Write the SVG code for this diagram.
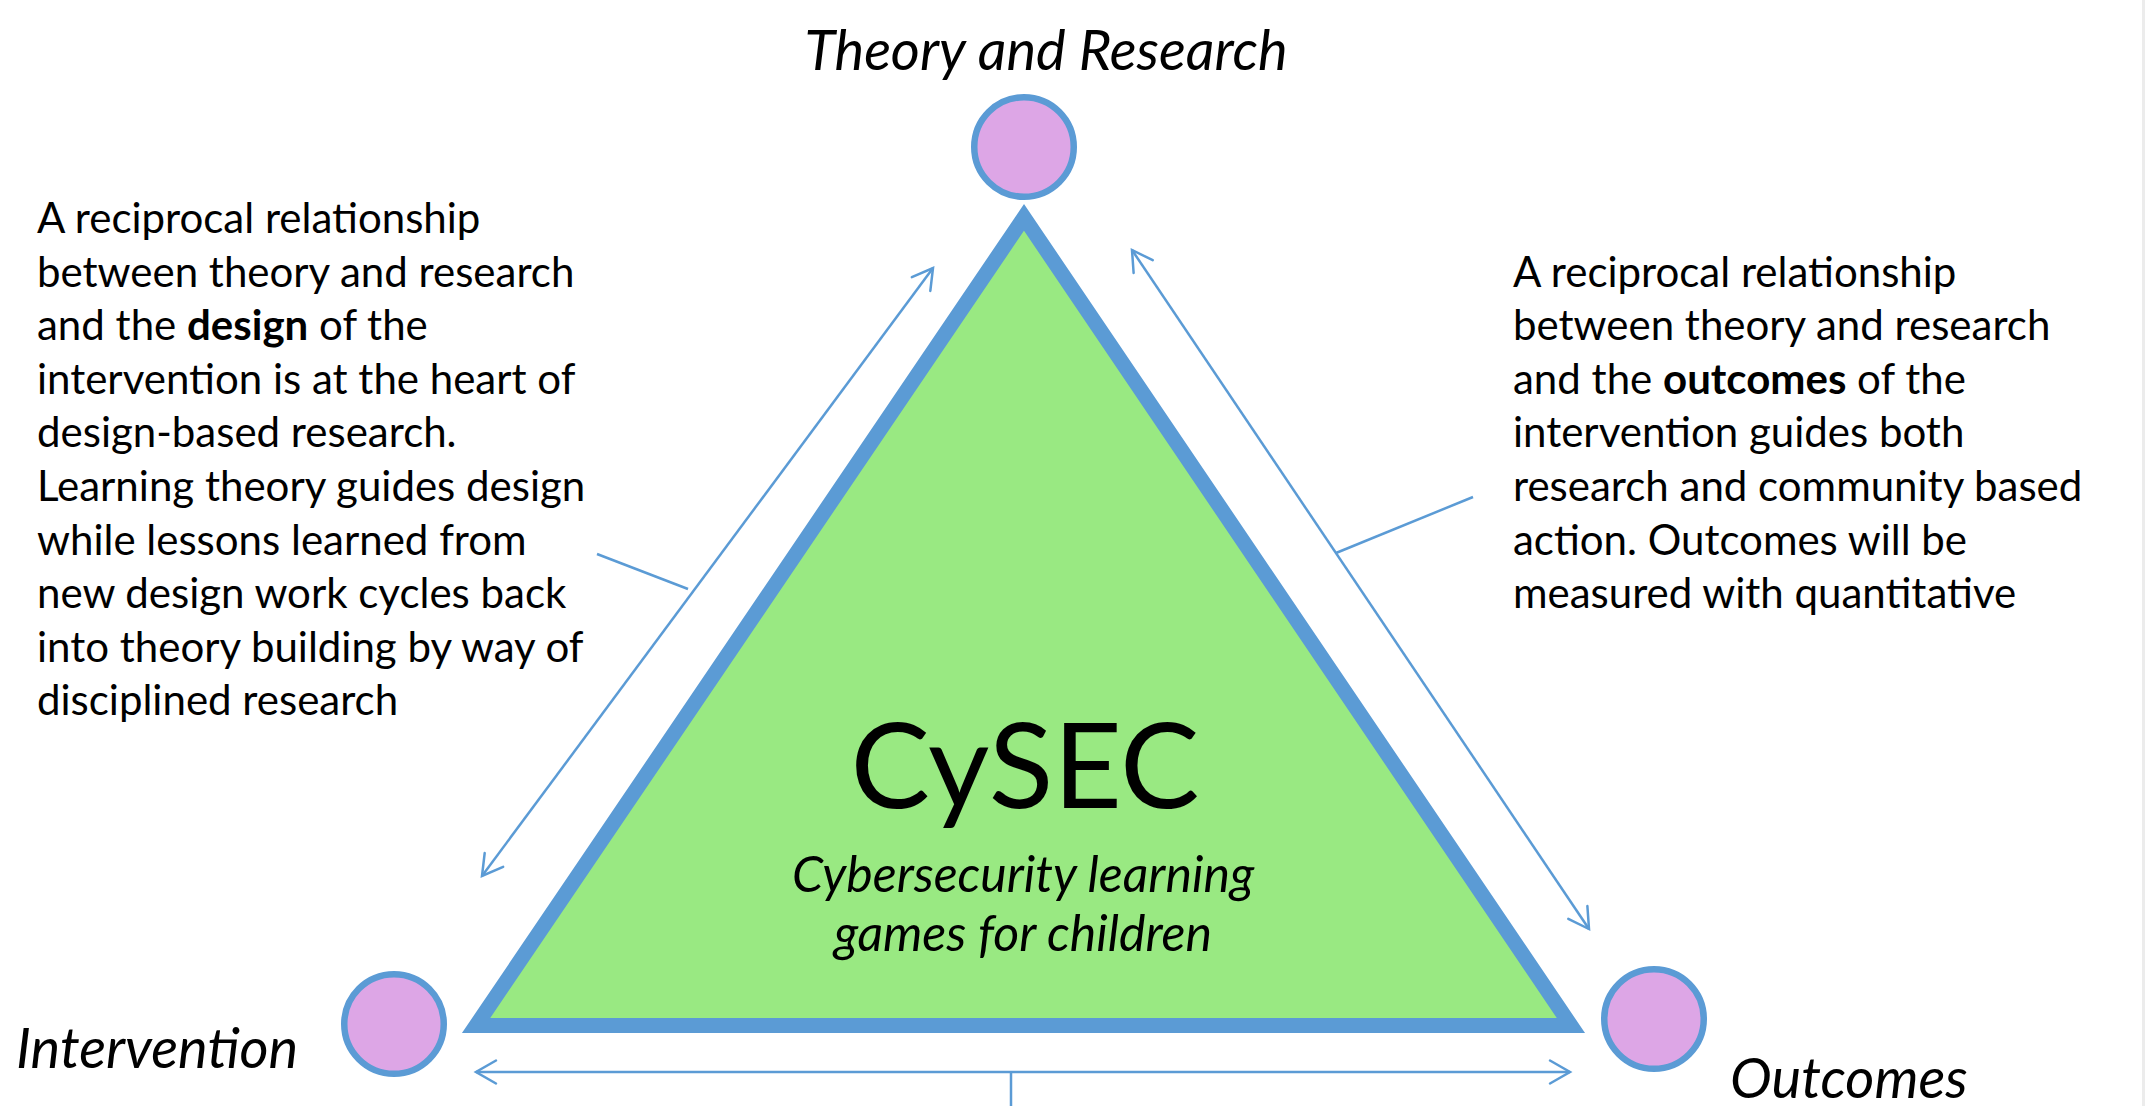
<svg xmlns="http://www.w3.org/2000/svg" width="2145" height="1106" viewBox="0 0 2145 1106">
  <style>
    .body { font-family: Lato, "Liberation Sans", sans-serif; font-size: 42px; fill: #000; }
    .label { font-family: Lato, "Liberation Sans", sans-serif; font-style: italic; font-size: 56px; fill: #000; }
    .sub { font-family: Lato, "Liberation Sans", sans-serif; font-style: italic; font-size: 50px; fill: #000; }
    .title { font-family: Lato, "Liberation Sans", sans-serif; font-size: 119px; fill: #000; }
    .vertex { fill: #DDA6E6; stroke: #5B9BD5; stroke-width: 6.5; }
    .link { stroke: #5B9BD5; stroke-width: 2.5; fill: none; }
    .leader { stroke: #5B9BD5; stroke-width: 2.5; fill: none; }
  </style>
  <defs>
    <marker id="open-head" markerUnits="userSpaceOnUse" viewBox="-24 -14 28 28" markerWidth="28" markerHeight="28" refX="0" refY="0" orient="auto-start-reverse">
      <path d="M -20,-11.5 L 0,0 L -20,11.5" fill="none" stroke="#5B9BD5" stroke-width="2.5" stroke-linecap="round" stroke-linejoin="miter"/>
    </marker>
  </defs>

  <rect x="0" y="0" width="2145" height="1106" fill="#ffffff"/>
  <rect x="2142" y="0" width="3" height="1106" fill="#ececec"/>

  <!-- central triangle -->
  <g id="cysec">
    <polygon points="1024,217.4 476.1,1025.5 1570.9,1025.5" fill="#99E982" stroke="#5B9BD5" stroke-width="15" stroke-linejoin="miter"/>
    <text class="title" x="1025" y="808" text-anchor="middle">CySEC</text>
    <text class="sub" x="1023" y="892" text-anchor="middle">Cybersecurity learning</text>
    <text class="sub" x="1023" y="951" text-anchor="middle">games for children</text>
  </g>

  <!-- corner nodes -->
  <g id="theory-research">
    <circle class="vertex" cx="1024" cy="147" r="49.75"/>
    <text class="label" x="1046" y="70" text-anchor="middle">Theory and Research</text>
  </g>
  <g id="intervention">
    <circle class="vertex" cx="394" cy="1024" r="49.75"/>
    <text class="label" x="16" y="1068">Intervention</text>
  </g>
  <g id="outcomes">
    <circle class="vertex" cx="1654" cy="1019" r="49.75"/>
    <text class="label" x="1730" y="1098" font-size="55">Outcomes</text>
  </g>

  <!-- explanatory notes -->
  <g id="note-design">
    <text class="body" x="37" y="233">A reciprocal relationship</text>
    <text class="body" x="37" y="286.6">between theory and research</text>
    <text class="body" x="37" y="340">and the <tspan font-weight="bold">design</tspan> of the</text>
    <text class="body" x="37" y="394">intervention is at the heart of</text>
    <text class="body" x="37" y="447">design-based research.</text>
    <text class="body" x="37" y="501">Learning theory guides design</text>
    <text class="body" x="37" y="555">while lessons learned from</text>
    <text class="body" x="37" y="608">new design work cycles back</text>
    <text class="body" x="37" y="662">into theory building by way of</text>
    <text class="body" x="37" y="715">disciplined research</text>
  </g>
  <g id="note-outcomes">
    <text class="body" x="1513" y="286.6">A reciprocal relationship</text>
    <text class="body" x="1513" y="340">between theory and research</text>
    <text class="body" x="1513" y="394">and the <tspan font-weight="bold">outcomes</tspan> of the</text>
    <text class="body" x="1513" y="447">intervention guides both</text>
    <text class="body" x="1513" y="501">research and community based</text>
    <text class="body" x="1513" y="555">action. Outcomes will be</text>
    <text class="body" x="1513" y="608">measured with quantitative</text>
  </g>

  <!-- connectors -->
  <g id="connectors">
    <line class="link" x1="482" y1="876" x2="933" y2="268" marker-start="url(#open-head)" marker-end="url(#open-head)"/>
    <line class="link" x1="1132" y1="250" x2="1589" y2="929" marker-start="url(#open-head)" marker-end="url(#open-head)"/>
    <line class="link" x1="476" y1="1072" x2="1570" y2="1072" marker-start="url(#open-head)" marker-end="url(#open-head)"/>
    <line class="leader" x1="597" y1="554" x2="688" y2="589"/>
    <line class="leader" x1="1473" y1="497" x2="1336" y2="553"/>
    <line class="leader" x1="1011" y1="1072" x2="1011" y2="1106"/>
  </g>
</svg>
